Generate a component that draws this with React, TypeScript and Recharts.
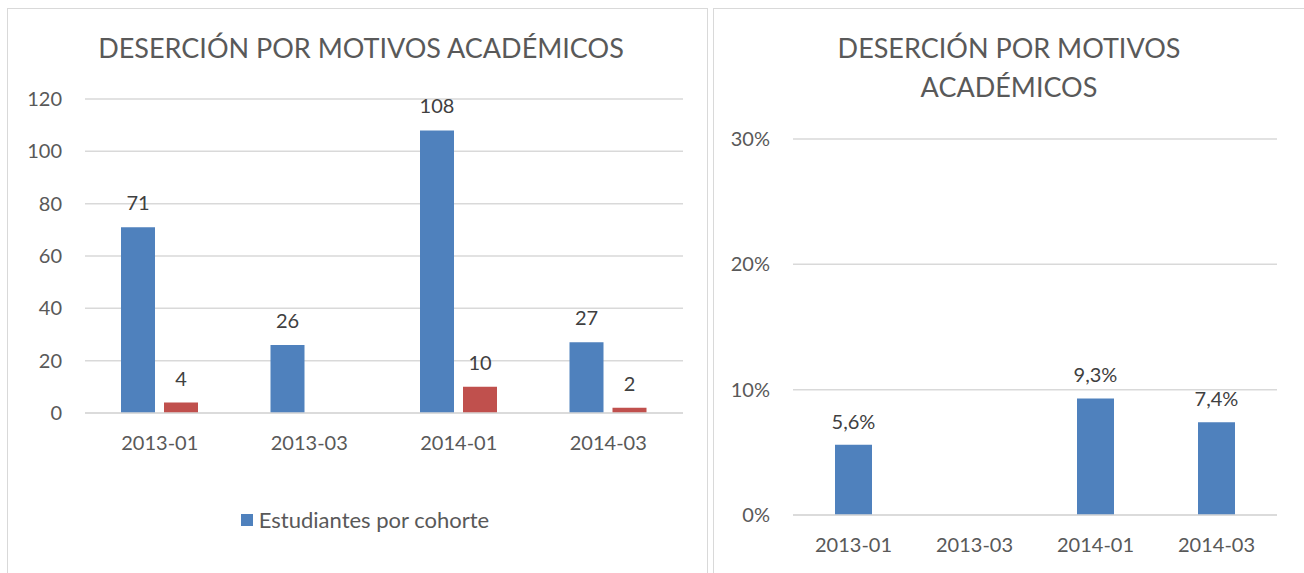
import React from 'react'
import { BarChart, Bar, XAxis, YAxis, CartesianGrid, LabelList, Legend } from 'recharts'

// cohorts and values
const cohorts = ['2013-01', '2013-03', '2014-01', '2014-03']
const studentsPerCohort = [71, 26, 108, 27]
const academicDropouts = [4, null, 10, 2]
const dropoutRate = [0.056, null, 0.093, 0.074]
const countTicks = [0, 20, 40, 60, 80, 100, 120]
const rateTicks = [0, 0.1, 0.2, 0.3]

const BLUE = '#4f81bd'
const RED = '#c0504d'
const GRID = '#d9d9d9'
const TEXT = '#595959'
const LABEL = '#404040'
const FONT = 'Lato, "Open Sans", sans-serif'

const countData = cohorts.map((c, i) => ({
  cohort: c,
  students: studentsPerCohort[i],
  dropouts: academicDropouts[i],
}))

const rateData = cohorts.map((c, i) => ({ cohort: c, rate: dropoutRate[i] }))

const fmtRate = (v: any) => (v == null ? '' : `${(v * 100).toFixed(1).replace('.', ',')}%`)

// only the blue series shows up in the original legend
const LegendContent = () => (
  <div style={{ display: 'flex', justifyContent: 'center', alignItems: 'center', fontFamily: FONT, fontSize: 22, color: TEXT, paddingLeft: 16 }}>
    <span style={{ display: 'inline-block', width: 12, height: 12, background: BLUE, marginRight: 6 }} />
    <span>Estudiantes por cohorte</span>
  </div>
)

const titleStyle: React.CSSProperties = {
  position: 'absolute',
  fontFamily: FONT,
  fontSize: 27,
  color: TEXT,
  textAlign: 'center',
  lineHeight: '39px',
}

export default function App() {
  return (
    <div style={{ position: 'absolute', left: 0, top: 0, width: 1304, height: 573, background: '#fff', overflow: 'hidden' }}>
      {/* left panel */}
      <div style={{ position: 'absolute', left: 7, top: 8, width: 699, height: 620, border: '1px solid #d9d9d9' }} />
      <div style={{ ...titleStyle, left: 8, top: 28, width: 706 }}>DESERCIÓN POR MOTIVOS ACADÉMICOS</div>
      <div style={{ position: 'absolute', left: 8, top: 9 }}>
        <BarChart
          width={698}
          height={564}
          data={countData}
          margin={{ top: 90, right: 23, left: 17, bottom: 130 }}
          barSize={34}
          barGap={9}
        >
          <CartesianGrid vertical={false} stroke={GRID} strokeWidth={1.5} />
          <XAxis
            dataKey="cohort"
            height={30}
            axisLine={{ stroke: GRID, strokeWidth: 1.5 }}
            tickLine={false}
            tickMargin={17}
            tick={{ fill: TEXT, fontSize: 20, fontFamily: FONT }}
          />
          <YAxis
            width={60}
            domain={[0, 120]}
            ticks={countTicks}
            axisLine={false}
            tickLine={false}
            tickMargin={17}
            tick={{ fill: TEXT, fontSize: 20, fontFamily: FONT }}
          />
          <Legend
            layout="horizontal"
            verticalAlign="middle"
            align="center"
            wrapperStyle={{ top: 497, left: 0, width: 698 }}
            content={<LegendContent />}
          />
          <Bar dataKey="students" fill={BLUE} isAnimationActive={false}>
            <LabelList dataKey="students" position="top" offset={17} fill={LABEL} fontSize={20} fontFamily={FONT} />
          </Bar>
          <Bar dataKey="dropouts" fill={RED} isAnimationActive={false}>
            <LabelList dataKey="dropouts" position="top" offset={17} fill={LABEL} fontSize={20} fontFamily={FONT} />
          </Bar>
        </BarChart>
      </div>

      {/* right panel */}
      <div style={{ position: 'absolute', left: 713, top: 8, width: 620, height: 620, borderLeft: '1px solid #d9d9d9', borderTop: '1px solid #d9d9d9' }} />
      <div style={{ ...titleStyle, left: 714, top: 28, width: 590 }}>
        DESERCIÓN POR MOTIVOS
        <br />
        ACADÉMICOS
      </div>
      <div style={{ position: 'absolute', left: 714, top: 9 }}>
        <BarChart
          width={590}
          height={564}
          data={rateData}
          margin={{ top: 130, right: 27, left: 19, bottom: 28 }}
          barSize={37}
        >
          <CartesianGrid vertical={false} stroke={GRID} strokeWidth={1.5} />
          <XAxis
            dataKey="cohort"
            height={30}
            axisLine={{ stroke: GRID, strokeWidth: 1.5 }}
            tickLine={false}
            tickMargin={17}
            tick={{ fill: TEXT, fontSize: 20, fontFamily: FONT }}
          />
          <YAxis
            width={60}
            domain={[0, 0.3]}
            ticks={rateTicks}
            tickFormatter={(v: number) => `${Math.round(v * 100)}%`}
            axisLine={false}
            tickLine={false}
            tickMargin={17}
            tick={{ fill: TEXT, fontSize: 20, fontFamily: FONT }}
          />
          <Bar dataKey="rate" fill={BLUE} isAnimationActive={false}>
            <LabelList dataKey="rate" position="top" offset={16} formatter={fmtRate} fill={LABEL} fontSize={20} fontFamily={FONT} />
          </Bar>
        </BarChart>
      </div>
    </div>
  )
}
